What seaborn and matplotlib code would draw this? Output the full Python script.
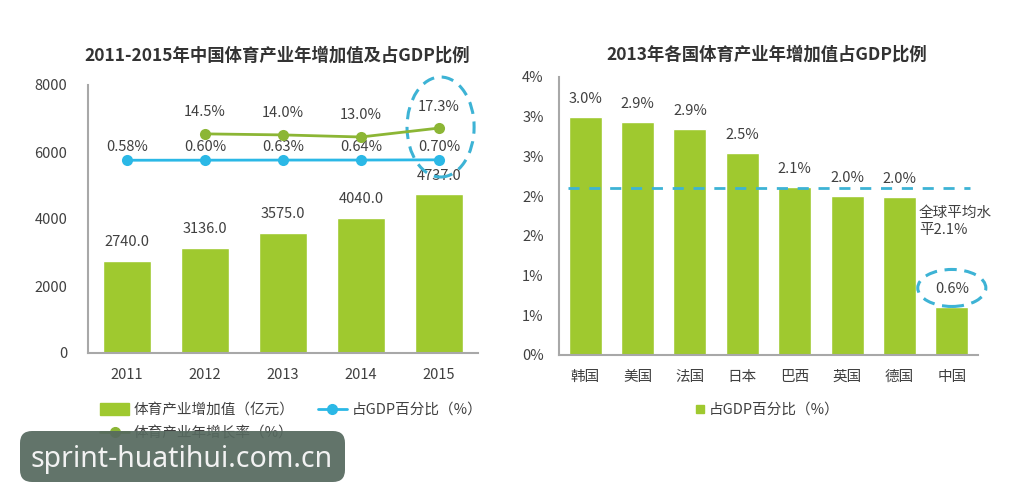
import numpy as np
import pandas as pd
import matplotlib.pyplot as plt
from matplotlib.patches import Patch, Ellipse, FancyBboxPatch
from matplotlib.lines import Line2D
import seaborn as sns

# ---- data ----
years = ['2011', '2012', '2013', '2014', '2015']
added_value = [2740.0, 3136.0, 3575.0, 4040.0, 4737.0]          # 亿元
gdp_share = [0.58, 0.60, 0.63, 0.64, 0.70]                        # %
growth_years = ['2012', '2013', '2014', '2015']
growth_rate = [14.5, 14.0, 13.0, 17.3]                            # %

countries = ['韩国', '美国', '法国', '日本', '巴西', '英国', '德国', '中国']
country_share = [3.0, 2.93, 2.85, 2.54, 2.12, 2.0, 1.99, 0.6]
country_labels = ['3.0%', '2.9%', '2.9%', '2.5%', '2.1%', '2.0%', '2.0%', '0.6%']
world_avg = 2.1
right_yticks = [0, 0.5, 1.0, 1.5, 2.0, 2.5, 3.0, 3.5]
right_yticklabels = ['0%', '1%', '1%', '2%', '2%', '3%', '3%', '4%']
left_yticks = [0, 2000, 4000, 6000, 8000]

bar_color = '#9fc92f'
green_line = '#8cb635'
cyan_line = '#2bb8e6'
ring_color = '#3db3d5'
text_color = '#404040'
spine_color = '#a8a8a8'

sns.set_style('white')
plt.rcParams['font.family'] = ['Noto Sans CJK SC', 'DejaVu Sans']
plt.rcParams['text.color'] = text_color

fig = plt.figure(figsize=(10.09, 5), dpi=100)
fig.patch.set_facecolor('white')
W, H = 1009, 500

# ================= left chart =================
ax = fig.add_axes([88 / W, 1 - 353 / H, 390 / W, 268 / H])
df_left = pd.DataFrame({'year': years, 'value': added_value})
sns.barplot(data=df_left, x='year', y='value', color=bar_color, saturation=1,
            width=0.62, ax=ax)
ax.set_xlim(-0.5, len(years) - 0.5)
ax.set_ylim(0, 8000)
ax.set_yticks(left_yticks)
ax.set_xlabel('')
ax.set_ylabel('')
ax.tick_params(axis='y', length=0, pad=15, labelsize=10.5, labelcolor=text_color)
ax.tick_params(axis='x', length=0, pad=11, labelsize=10.5, labelcolor=text_color)
for s in ['top', 'right']:
    ax.spines[s].set_visible(False)
for s in ['left', 'bottom']:
    ax.spines[s].set_color(spine_color)
    ax.spines[s].set_linewidth(1.5)
for i, v in enumerate(added_value):
    ax.annotate(f'{v:.1f}', (i, v), xytext=(0, 13.5), textcoords='offset points',
                ha='center', va='center', fontsize=10.5, color=text_color)

# GDP share line on its own hidden scale
ax_gdp = ax.twinx()
ax_gdp.set_ylim(-56.96, 23.04)
x_gdp = [years.index(y) for y in years]
sns.lineplot(x=x_gdp, y=gdp_share, ax=ax_gdp, color=cyan_line, lw=2,
             marker='o', markersize=8, markeredgewidth=0)
for xi, v in zip(x_gdp, gdp_share):
    ax_gdp.annotate(f'{v:.2f}%', (xi, v), xytext=(0, 9.5), textcoords='offset points',
                    ha='center', va='center', fontsize=10.5, color=text_color)

# growth-rate line on its own hidden scale
ax_gr = ax.twinx()
ax_gr.set_ylim(-91.0, 38.03)
x_gr = [years.index(y) for y in growth_years]
sns.lineplot(x=x_gr, y=growth_rate, ax=ax_gr, color=green_line, lw=2,
             marker='o', markersize=8, markeredgewidth=0)
for xi, v in zip(x_gr, growth_rate):
    ax_gr.annotate(f'{v:.1f}%', (xi, v), xytext=(0, 15.5), textcoords='offset points',
                   ha='center', va='center', fontsize=10.5, color=text_color)

for a in (ax_gdp, ax_gr):
    a.set_xlim(-0.5, len(years) - 0.5)
    a.axis('off')

ax_gr.add_patch(Ellipse((4.02, 6746), 0.86, 2985, transform=ax.transData,
                        fill=False, ec=ring_color, lw=2.2, ls=(0, (4, 2.5)),
                        clip_on=False))

fig.text(277 / W, 1 - 56 / H, '2011-2015年中国体育产业年增加值及占GDP比例',
         ha='center', va='center', fontsize=12.5, fontweight='bold', color='#333333')

handles = [Patch(color=bar_color),
           Line2D([], [], color=green_line, lw=2, marker='o', markersize=7),
           Line2D([], [], color=cyan_line, lw=2, marker='o', markersize=7)]
labels = ['体育产业增加值（亿元）', '体育产业年增长率（%）', '占GDP百分比（%）']
fig.legend(handles, labels, loc='upper left', bbox_to_anchor=(100 / W, 1 - 403 / H),
           ncol=2, frameon=False, fontsize=10.5, borderpad=0, borderaxespad=0,
           handlelength=2.0, handleheight=0.8, handletextpad=0.3,
           labelspacing=0.62, columnspacing=1.6, labelcolor=text_color)

# ================= right chart =================
ax_r = fig.add_axes([559 / W, 1 - 355 / H, 419 / W, 278 / H])
df_right = pd.DataFrame({'country': countries, 'share': country_share})
sns.barplot(data=df_right, x='country', y='share', color=bar_color, saturation=1,
            width=0.63, ax=ax_r)
ax_r.set_xlim(-0.5, len(countries) - 0.5)
ax_r.set_ylim(0, 3.5)
ax_r.set_yticks(right_yticks)
ax_r.set_yticklabels(right_yticklabels)
ax_r.set_xlabel('')
ax_r.set_ylabel('')
ax_r.tick_params(axis='y', length=0, pad=11, labelsize=10.5, labelcolor=text_color)
ax_r.tick_params(axis='x', length=0, pad=11, labelsize=10.5, labelcolor=text_color)
for s in ['top', 'right']:
    ax_r.spines[s].set_visible(False)
for s in ['left', 'bottom']:
    ax_r.spines[s].set_color(spine_color)
    ax_r.spines[s].set_linewidth(1.5)
for i, (v, lab) in enumerate(zip(country_share, country_labels)):
    ax_r.annotate(lab, (i, v), xytext=(0, 13), textcoords='offset points',
                  ha='center', va='center', fontsize=10.5, color=text_color)

ax_r.hlines(world_avg, -0.32, 7.35, colors=ring_color, lw=2, linestyles=(0, (4, 3.5)))
ax_r.text(6.37, 1.68, '全球平均水\n平2.1%', ha='left', va='center', fontsize=10.5,
          color=text_color, linespacing=1.3)
ax_r.add_patch(Ellipse((7.0, 0.844), 1.3, 0.466, fill=False, ec=ring_color, lw=2.2,
                       ls=(0, (4, 2.5)), clip_on=False))

fig.text(767 / W, 1 - 55 / H, '2013年各国体育产业年增加值占GDP比例',
         ha='center', va='center', fontsize=12.5, fontweight='bold', color='#333333')

fig.legend([Line2D([], [], ls='none', marker='s', markersize=6, color=bar_color)],
           ['占GDP百分比（%）'], loc='center', bbox_to_anchor=(768 / W, 1 - 410 / H),
           frameon=False, fontsize=10.5, handlelength=0.6, handletextpad=0.3,
           borderpad=0, labelcolor=text_color)

# ---- watermark ----
fig.patches.append(FancyBboxPatch((20 / W, 1 - 482 / H), 325 / W, 51 / H,
                                  boxstyle='round,pad=0,rounding_size=0.012',
                                  mutation_aspect=2.0, transform=fig.transFigure,
                                  fc='#56695f', ec='none', alpha=0.93, zorder=10))
fig.text(182 / W, 1 - 459 / H, 'sprint-huatihui.com.cn', ha='center', va='center',
         fontsize=20.5, color='#f2f2f2', family=['Noto Sans', 'DejaVu Sans'], zorder=11)

fig.savefig('out.png', dpi=100, facecolor='white')
